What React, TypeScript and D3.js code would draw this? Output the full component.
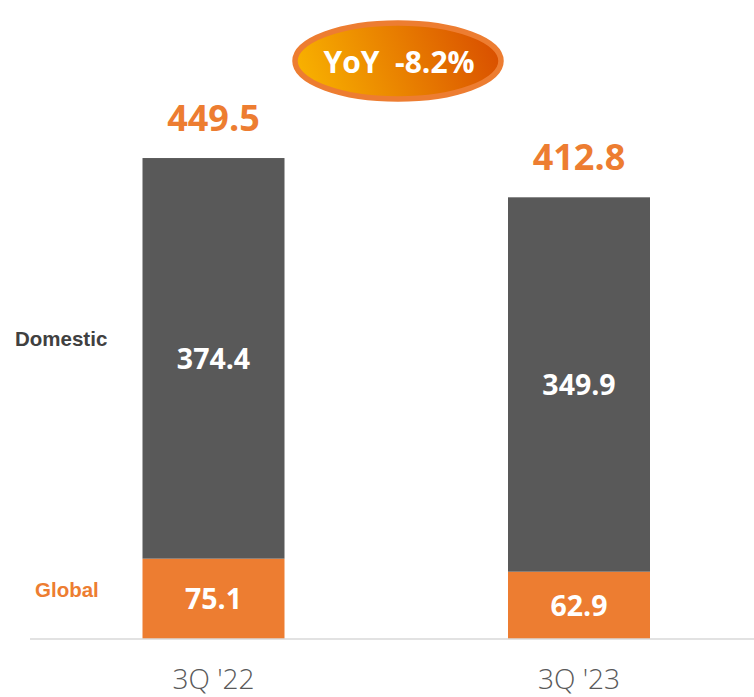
import React from "react";
import * as d3 from "d3";

const categories = ["3Q '22", "3Q '23"];
const domestic = [374.4, 349.9];
const global = [75.1, 62.9];
const totals = [449.5, 412.8];
const yoyLabel = "YoY  -8.2%";

const W = 754;
const H = 697;

export default function App() {
  const x = d3.scalePoint<string>().domain(categories).range([213.5, 579]);
  const y = d3.scaleLinear().domain([0, 500]).range([639, 104]);
  const bw = 142;
  const stack = d3.stack<any>().keys(["global", "domestic"])(
    categories.map((c, i) => ({ cat: c, global: global[i], domestic: domestic[i] }))
  );
  const colors: Record<string, string> = { global: "#ed7d31", domestic: "#595959" };
  const numFont = "'Open Sans', sans-serif";

  return (
    <svg width={W} height={H} style={{ position: "absolute", left: 0, top: 0 }} fontFamily={numFont}>
      <defs>
        <linearGradient id="yoyGrad" gradientUnits="userSpaceOnUse" x1="310" y1="95" x2="490" y2="25">
          <stop offset="0%" stopColor="#f8b000" />
          <stop offset="100%" stopColor="#d94f00" />
        </linearGradient>
      </defs>
      <rect width={W} height={H} fill="#fff" />
      {stack.map((layer) =>
        layer.map((d, i) => {
          const cx = x(categories[i])!;
          const y0 = y(d[0]);
          const y1 = y(d[1]);
          return (
            <g key={layer.key + i}>
              <rect x={cx - bw / 2} y={y1} width={bw} height={y0 - y1} fill={colors[layer.key]} />
              <text
                x={cx}
                y={(y0 + y1) / 2}
                dy="0.36em"
                textAnchor="middle"
                fill="#fff"
                fontWeight="bold"
                fontSize={28.5}
              >
                {(d[1] - d[0]).toFixed(1)}
              </text>
            </g>
          );
        })
      )}
      {totals.map((t, i) => (
        <text
          key={"t" + i}
          x={x(categories[i])!}
          y={y(t) - 27}
          textAnchor="middle"
          fill="#ed7d31"
          fontWeight="bold"
          fontSize={36}
        >
          {t.toFixed(1)}
        </text>
      ))}
      <line x1={30} x2={754} y1={y(0)} y2={y(0)} stroke="#d9d9d9" strokeWidth={1.5} />
      {categories.map((c) => (
        <text
          key={c}
          x={x(c)!}
          y={689}
          textAnchor="middle"
          fill="#595959"
          fontWeight={300}
          fontSize={28}
        >
          {c}
        </text>
      ))}
      <text x={15} y={346} fill="#404040" fontWeight="bold" fontSize={20.5} fontFamily="'Liberation Sans', Arial, sans-serif">
        Domestic
      </text>
      <text x={35} y={597} fill="#ed7d31" fontWeight="bold" fontSize={20.5} fontFamily="'Liberation Sans', Arial, sans-serif">
        Global
      </text>
      <ellipse cx={398} cy={61} rx={103} ry={38} fill="url(#yoyGrad)" stroke="#ed7d31" strokeWidth={5.5} />
      <text x={399} y={73} textAnchor="middle" fill="#fff" fontWeight="bold" fontSize={30} style={{ whiteSpace: "pre" }}>
        {yoyLabel}
      </text>
    </svg>
  );
}
